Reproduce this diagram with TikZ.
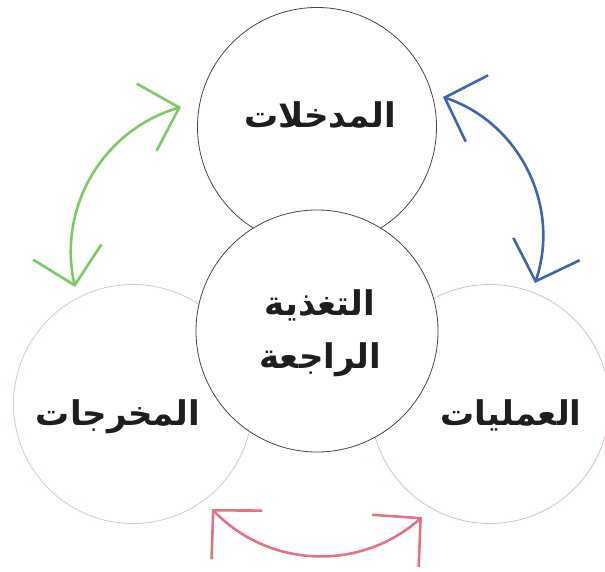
\documentclass[tikz,border=0pt]{standalone}
\usepackage{fontspec}
\usepackage{xcolor}
\usetikzlibrary{arrows.meta}
\TeXXeTstate=1
\newfontfamily\arabicfont[Script=Arabic]{DejaVu Sans}
\definecolor{arrgreen}{RGB}{125,200,105}
\definecolor{arrblue}{RGB}{65,100,170}
\definecolor{arrred}{RGB}{225,115,130}
\definecolor{ringgreen}{RGB}{195,215,190}
\definecolor{ringred}{RGB}{220,190,195}
\definecolor{ringdark}{RGB}{70,70,70}
\definecolor{txtdark}{RGB}{30,30,30}

\begin{document}
\begin{tikzpicture}[x=1pt,y=1pt,
	ring/.style={circle, draw=#1, line width=0.8pt, fill=white, inner sep=0pt, minimum size=239pt},
	word/.style={anchor=base, align=center, text=txtdark, font=\arabicfont\bfseries\fontsize{34}{53}\selectfont},
	twoway/.style={draw=#1, line width=2.6pt, {Straight Barb[length=34pt,width=70pt]}-{Straight Barb[length=34pt,width=70pt]}}]
				\useasboundingbox (0,0) rectangle (605,571);
				
				\node[ring=ringdark] (inp) at (317,444) {};
				\node[ring=ringgreen] (outp) at (133,167) {};
				\node[ring=ringred] (proc) at (490,167) {};
				\node[ring=ringdark, minimum size=242pt] (feed) at (317,240) {};
				
				\node[word] (inptxt) at (320,443) {\beginR المدخلات\endR};
				\node[word] (outptxt) at (118,146) {\beginR المخرجات\endR};
				\node[word] (proctxt) at (511,146) {\beginR العمليات\endR};
				\node[word] (feedtxt) at (320,203) {\beginR التغذية\endR\\\beginR الراجعة\endR};
				
				\coordinate (g1) at (181,464);
				\coordinate (g2) at (75,284);
				\coordinate (b1) at (443,474);
				\coordinate (b2) at (535,288);
				\coordinate (r1) at (212,62);
				\coordinate (r2) at (422,54);
				
				\draw[twoway=arrgreen] (g2) to [bend left=43] (g1);
				\draw[twoway=arrblue] (b2) to [bend right=45] (b1);
				\draw[twoway=arrred] (r1) to [bend right=44] (r2);
\end{tikzpicture}
\end{document}
